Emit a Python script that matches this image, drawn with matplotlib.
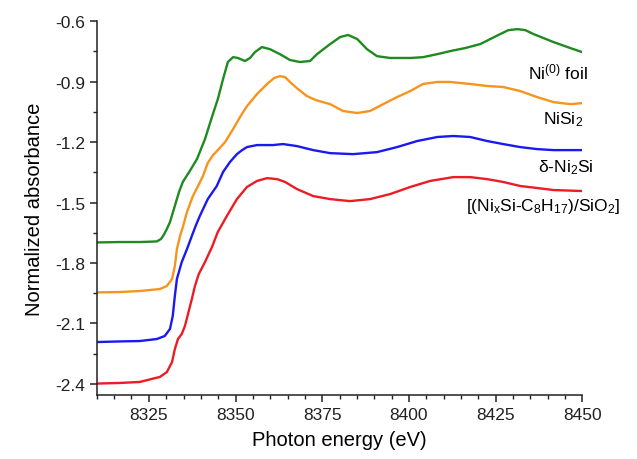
import numpy as np
import matplotlib.pyplot as plt
from matplotlib.ticker import MultipleLocator

plt.rcParams['font.family'] = ['Liberation Sans', 'DejaVu Sans']
plt.rcParams['mathtext.fontset'] = 'custom'
plt.rcParams['mathtext.rm'] = 'Liberation Sans'
plt.rcParams['mathtext.it'] = 'Liberation Sans'
plt.rcParams['mathtext.default'] = 'regular'

# Ni(0) foil
E_foil = np.array([8310, 8316.6, 8322.4, 8327.3, 8328.5, 8329.3, 8330.2, 8331.1, 8332.5,
                   8333.7, 8334.8, 8336.8, 8338.9, 8341.2, 8343.2, 8344.9, 8346.4, 8347.8,
                   8349.3, 8350.7, 8352.7, 8354.2, 8355.6, 8357.6, 8359.9, 8362.8, 8365.7,
                   8368.6, 8371.5, 8373.5, 8377.3, 8380.2, 8382.5, 8385.1, 8387.9, 8390.8,
                   8394.6, 8400.4, 8404.1, 8408.2, 8411.9, 8416.2, 8420.6, 8423.5, 8426.4,
                   8428.7, 8431.3, 8433.6, 8435.9, 8438.8, 8441.7, 8446.6, 8450])
mu_foil = np.array([-1.698, -1.696, -1.696, -1.693, -1.681, -1.661, -1.631, -1.597, -1.517,
                    -1.448, -1.398, -1.344, -1.284, -1.185, -1.076, -0.987, -0.888, -0.803,
                    -0.779, -0.783, -0.798, -0.783, -0.754, -0.729, -0.739, -0.764, -0.793,
                    -0.803, -0.798, -0.764, -0.714, -0.679, -0.669, -0.689, -0.739, -0.774,
                    -0.783, -0.783, -0.779, -0.764, -0.749, -0.734, -0.714, -0.689, -0.664,
                    -0.645, -0.640, -0.645, -0.664, -0.684, -0.704, -0.734, -0.754])

# NiSi2
E_nisi2 = np.array([8310, 8316.6, 8322.4, 8328.2, 8330.2, 8331.7, 8332.5, 8333.1, 8334.0,
                    8334.8, 8336.0, 8337.7, 8339.2, 8340.6, 8342.0, 8343.5, 8344.9, 8347.0,
                    8349.3, 8351.3, 8353.3, 8356.2, 8359.1, 8361.1, 8362.8, 8364.3, 8365.7,
                    8368.0, 8370.6, 8373.2, 8375.2, 8377.3, 8381.0, 8385.1, 8388.8, 8392.6,
                    8396.6, 8400.4, 8404.1, 8408.2, 8411.9, 8417.7, 8422.6, 8427.2, 8432.1,
                    8437.0, 8441.7, 8446.6, 8450])
mu_nisi2 = np.array([-1.946, -1.944, -1.939, -1.929, -1.914, -1.879, -1.815, -1.731, -1.666,
                     -1.622, -1.547, -1.468, -1.418, -1.369, -1.304, -1.265, -1.240, -1.200,
                     -1.136, -1.076, -1.022, -0.962, -0.912, -0.883, -0.873, -0.878, -0.902,
                     -0.937, -0.972, -0.992, -1.002, -1.012, -1.046, -1.056, -1.046, -1.012,
                     -0.977, -0.947, -0.912, -0.902, -0.902, -0.912, -0.922, -0.927, -0.947,
                     -0.977, -1.002, -1.012, -1.007])

# delta-Ni2Si
E_ni2si = np.array([8310, 8316.6, 8322.4, 8327.3, 8329.6, 8331.1, 8331.9, 8332.5, 8333.1,
                    8334.5, 8336.0, 8337.4, 8338.6, 8339.7, 8342.0, 8344.6, 8346.4, 8348.4,
                    8350.4, 8351.9, 8353.3, 8356.2, 8360.8, 8363.7, 8367.7, 8372.4, 8377.3,
                    8383.9, 8390.8, 8396.6, 8402.4, 8408.2, 8412.8, 8417.7, 8422.6, 8427.2,
                    8432.1, 8437.0, 8441.7, 8450])
mu_ni2si = np.array([-2.192, -2.189, -2.187, -2.177, -2.162, -2.127, -2.063, -1.964, -1.879,
                     -1.795, -1.731, -1.666, -1.612, -1.567, -1.483, -1.418, -1.349, -1.299,
                     -1.260, -1.240, -1.225, -1.215, -1.215, -1.210, -1.220, -1.240, -1.255,
                     -1.260, -1.250, -1.225, -1.195, -1.175, -1.170, -1.175, -1.195, -1.210,
                     -1.225, -1.235, -1.240, -1.240])

# [(NixSi-C8H17)/SiO2]
E_sample = np.array([8310, 8316.6, 8322.4, 8328.2, 8330.2, 8331.7, 8332.5, 8333.4, 8334.5,
                     8335.4, 8336.3, 8337.4, 8338.3, 8339.4, 8341.2, 8343.2, 8344.9, 8347.5,
                     8350.4, 8353.3, 8356.2, 8359.1, 8362.0, 8364.3, 8367.7, 8372.4, 8377.3,
                     8383.0, 8388.8, 8394.6, 8400.4, 8406.1, 8412.8, 8417.7, 8422.6, 8427.2,
                     8432.1, 8437.0, 8441.7, 8450])
mu_sample = np.array([-2.398, -2.395, -2.390, -2.365, -2.341, -2.291, -2.227, -2.177, -2.152,
                      -2.113, -2.053, -1.979, -1.914, -1.855, -1.795, -1.721, -1.646, -1.567,
                      -1.483, -1.423, -1.393, -1.379, -1.384, -1.398, -1.433, -1.468, -1.483,
                      -1.493, -1.483, -1.458, -1.423, -1.393, -1.374, -1.374, -1.384, -1.398,
                      -1.418, -1.428, -1.438, -1.443])

fig = plt.figure(figsize=(6.37, 4.6), dpi=100)
ax = fig.add_axes([0.152, 0.139, 0.762, 0.813])

lw = 1.7
style = dict(lw=lw, solid_joinstyle='round', solid_capstyle='round')
ax.plot(E_foil, mu_foil, color='#1f8a1f', **style)
ax.plot(E_nisi2, mu_nisi2, color='#f7941d', **style)
ax.plot(E_ni2si, mu_ni2si, color='#1a1aef', **style)
ax.plot(E_sample, mu_sample, color='#ec1c24', **style)

fs = 12.5
ax.text(8451.5, -0.848, 'Ni$^{(0)}$ foil', ha='right', va='center', fontsize=fs)
ax.text(8450.3, -1.086, 'NiSi$_2$', ha='right', va='center', fontsize=fs)
ax.text(8453.3, -1.324, 'δ-Ni$_2$Si', ha='right', va='center', fontsize=fs)
ax.text(8416.6, -1.517, '[(Ni$_x$Si-C$_8$H$_{17}$)/SiO$_2$]', ha='left', va='center',
        fontsize=fs, clip_on=False)

ax.set_xlim(8310, 8450)
ax.set_ylim(-2.455, -0.6)
ax.xaxis.set_major_locator(MultipleLocator(25))
ax.xaxis.set_minor_locator(MultipleLocator(5))
ax.yaxis.set_minor_locator(MultipleLocator(0.15))
ax.set_yticks(np.arange(-2.4, -0.59, 0.3))
ax.set_yticklabels(['-2.4', '-2.1', '-1.8', '-1.5', '-1.2', '-0.9', '-0.6'])

for s in ['top', 'right']:
    ax.spines[s].set_visible(False)
for s in ['left', 'bottom']:
    ax.spines[s].set_linewidth(1.1)
    ax.spines[s].set_color('#222222')

ax.tick_params(which='major', direction='out', length=5, width=1.1, labelsize=12.5,
               colors='#222222')
ax.tick_params(which='minor', direction='out', length=3, width=1.0, colors='#222222')

ax.set_xlabel('Photon energy (eV)', fontsize=14.5, labelpad=6)
ax.set_ylabel('Normalized absorbance', fontsize=14.5, labelpad=8)

fig.savefig('out.png', dpi=100)
